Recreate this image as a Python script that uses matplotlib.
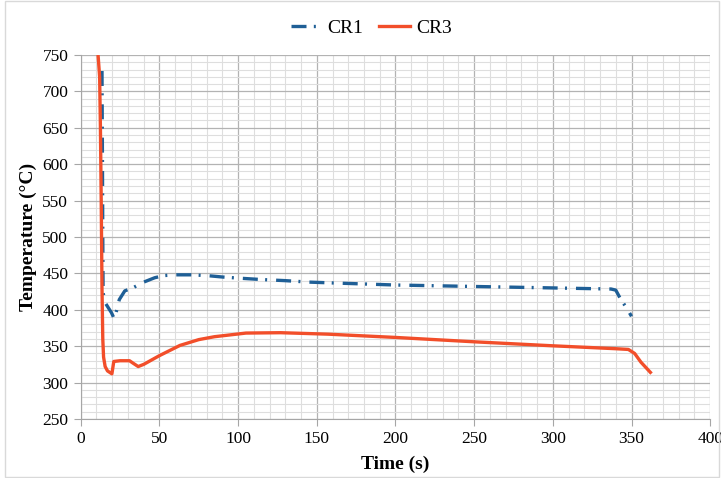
import matplotlib
matplotlib.use("Agg")
from matplotlib import pyplot as plt
from matplotlib.patches import Rectangle
import numpy as np

# CR1 readings (time in s, temperature in C)
cr1_time = [13.5, 13.8, 14.0, 14.2, 16.0, 19.5, 21.0, 22.0, 24.5, 28.0, 33.0,
            40.0, 47.0, 53.0, 60.0, 70.0, 80.0, 90.0, 100.0, 115.0, 130.0,
            145.0, 158.0, 200.0, 250.0, 300.0, 337.0, 340.0, 343.0, 347.0, 350.0]
cr1_temp = [728, 600, 500, 423, 408, 396, 389, 392, 414, 426, 430,
            438, 444, 447, 448, 448, 447, 445, 443.5, 441.5, 440,
            438, 437, 434, 432, 430, 428.5, 427, 415, 402, 391]

# CR3 readings
cr3_time = [11.0, 12.0, 12.5, 13.0, 13.5, 14.0, 14.5, 15.5, 17.0, 19.8, 20.5,
            21.0, 25.0, 31.0, 33.0, 36.5, 40.0, 50.0, 63.0, 75.0, 85.0, 105.0,
            127.0, 157.0, 200.0, 250.0, 300.0, 340.0, 348.0, 352.0, 356.0, 362.0]
cr3_temp = [750, 720, 650, 550, 430, 360, 335, 322, 316, 312, 322,
            329, 330, 330, 327, 322, 325, 337, 351, 359, 363, 368,
            368.5, 366.5, 362, 356, 350.5, 346.5, 345.5, 340, 328, 314]

x_ticks = np.arange(0, 401, 50)
y_ticks = np.arange(250, 751, 50)

plt.rcParams["font.family"] = ["Liberation Serif", "DejaVu Serif"]

fig = plt.figure(figsize=(7.21, 4.78), dpi=100)
ax = fig.add_axes([0.112, 0.1235, 0.873, 0.7615])

# light border around the whole picture
fig.patches.append(Rectangle((0.007, 0.002), 0.99, 0.996, transform=fig.transFigure,
                             fill=False, edgecolor="#d9d9d9", linewidth=1))

ax.plot(cr1_time, cr1_temp, color="#1f5f96", linewidth=2.4,
        dashes=(4.5, 2.2, 0.6, 2.7), label="CR1")
ax.plot(cr3_time, cr3_temp, color="#f24e2a", linewidth=2.4, label="CR3")

ax.set_xlim(0, 400)
ax.set_ylim(250, 750)
ax.set_xticks(x_ticks)
ax.set_yticks(y_ticks)
ax.set_xticks(np.arange(0, 401, 10), minor=True)
ax.set_yticks(np.arange(250, 751, 10), minor=True)
ax.grid(which="major", color="#b3b3b3", linewidth=0.9)
ax.grid(which="minor", color="#dedede", linewidth=0.8)
ax.set_axisbelow(True)

for side in ("top", "right"):
    ax.spines[side].set_visible(False)
for side in ("left", "bottom"):
    ax.spines[side].set_color("#a6a6a6")
ax.tick_params(which="major", length=5, color="#a6a6a6", labelsize=12.5, pad=4)
ax.tick_params(which="minor", length=0)

ax.set_xlabel("Time (s)", fontsize=14, fontweight="bold", labelpad=6)
ax.set_ylabel("Temperature (\u00b0C)", fontsize=14, fontweight="bold", labelpad=4)

fig.legend(loc="center", bbox_to_anchor=(0.515, 0.942), ncol=2, frameon=False,
           fontsize=14, handlelength=1.6, handletextpad=0.3, columnspacing=0.8)

fig.savefig("out.png", dpi=100)
